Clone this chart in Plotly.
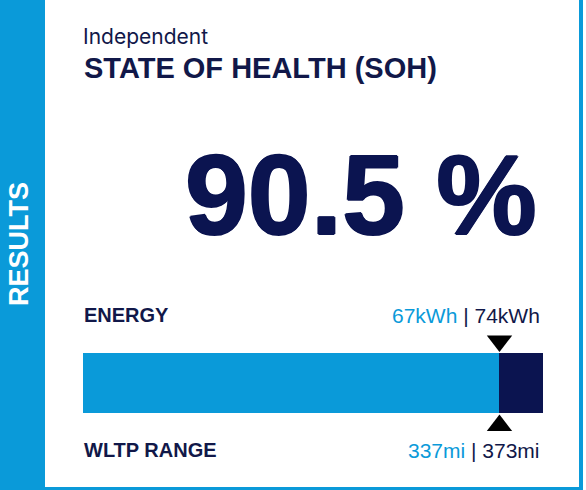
import plotly.graph_objects as go

soh_pct = 90.5
energy_now_kwh = 67
energy_new_kwh = 74
range_now_mi = 337
range_new_mi = 373
side_label = "RESULTS"
kicker = "Independent"
title = "STATE OF HEALTH (SOH)"
row_labels = ["ENERGY", "WLTP RANGE"]

W, H = 586, 490
LIGHT = "#0a9ad9"
NAVY = "#0b1450"
INK = "#111849"
FONT = "Liberation Sans"
PAD = 23  # px of room above/below the bar for the pointers


def px_x(x):
    return x / W


def px_y(y):
    return 1 - y / H


fig = go.Figure()

# the bar: used capacity vs. what is left of the original
fig.add_trace(go.Bar(
    x=[energy_now_kwh], y=[0], orientation="h", width=1,
    marker=dict(color=LIGHT, line_width=0), hoverinfo="skip",
))
fig.add_trace(go.Bar(
    x=[energy_new_kwh - energy_now_kwh], y=[0], orientation="h", width=1,
    marker=dict(color=NAVY, line_width=0), hoverinfo="skip",
))

# pointers above and below the split
fig.add_trace(go.Scatter(
    x=[energy_now_kwh, energy_now_kwh], y=[0.70, -0.71],
    mode="markers", cliponaxis=False, hoverinfo="skip",
    marker=dict(symbol=["triangle-down", "triangle-up"], size=22,
                color="black", line_width=0),
))

# side band and frame
shapes = [
    dict(type="rect", xref="paper", yref="paper", x0=0, x1=px_x(45), y0=0, y1=1,
         fillcolor=LIGHT, line_width=0, layer="below"),
    dict(type="rect", xref="paper", yref="paper", x0=px_x(579), x1=px_x(583), y0=0, y1=1,
         fillcolor=LIGHT, line_width=0, layer="below"),
    dict(type="rect", xref="paper", yref="paper", x0=px_x(45), x1=px_x(583),
         y0=0, y1=px_y(487), fillcolor=LIGHT, line_width=0, layer="below"),
]


def note(text, x, y, size, color=INK, xanchor="left", bold=False, angle=0,
         family=FONT, shadow=None):
    if bold:
        text = f"<b>{text}</b>"
    font = dict(family=family, size=size, color=color)
    if shadow:
        font["shadow"] = shadow
    return dict(
        text=text, xref="paper", yref="paper", x=px_x(x), y=px_y(y),
        xanchor=xanchor, yanchor="middle", showarrow=False, textangle=angle,
        font=font,
    )


energy_txt = f"<span style='color:{LIGHT}'>{energy_now_kwh}kWh</span> | {energy_new_kwh}kWh"
range_txt = f"<span style='color:{LIGHT}'>{range_now_mi}mi</span> | {range_new_mi}mi"
heavy = f"1px 0px 0px {NAVY}, -1px 0px 0px {NAVY}, 0px 1px 0px {NAVY}, 0px -1px 0px {NAVY}"

annotations = [
    note(side_label, 19, 244, 27, color="white", xanchor="center", bold=True, angle=-90),
    note(kicker, 81, 36, 21, family="Inter"),
    note(title, 82, 68, 29, bold=True),
    note(f"{soh_pct} %", 539, 195, 113, color=NAVY, xanchor="right", bold=True,
         shadow=heavy),
    note(row_labels[0], 82, 315, 20, bold=True),
    note(energy_txt, 542, 315, 21, xanchor="right"),
    note(row_labels[1], 82, 450, 20, bold=True),
    note(range_txt, 542, 450, 21, xanchor="right"),
]

fig.update_layout(
    width=W, height=H,
    margin=dict(l=0, r=0, t=0, b=0),
    paper_bgcolor="white", plot_bgcolor="rgba(0,0,0,0)",
    barmode="stack", bargap=0, showlegend=False,
    shapes=shapes, annotations=annotations,
    xaxis=dict(domain=[px_x(83), px_x(543)], range=[0, energy_new_kwh],
               visible=False, fixedrange=True),
    yaxis=dict(domain=[px_y(413 + PAD), px_y(353 - PAD)],
               range=[-0.5 - PAD / 60, 0.5 + PAD / 60],
               visible=False, fixedrange=True),
)

fig.write_html("out.html", config={"displayModeBar": False},
               post_script="document.body.style.margin='0';")
